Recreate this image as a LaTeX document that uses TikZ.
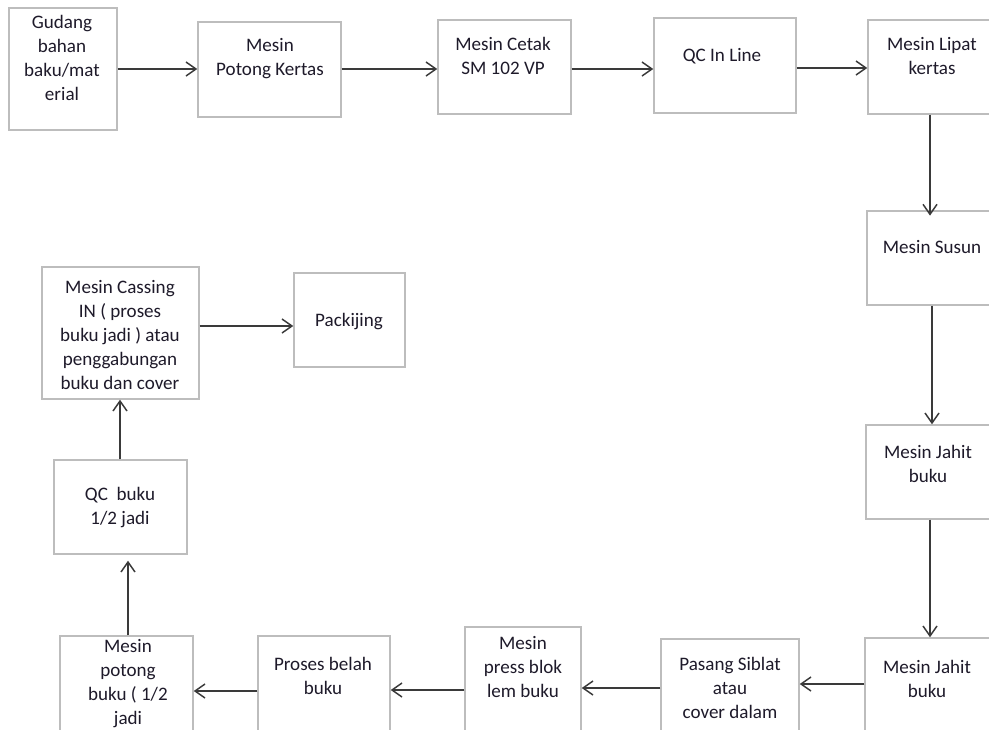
\documentclass[tikz,border=0pt]{standalone}
\usepackage{fontspec}
\setmainfont{Carlito}
\usetikzlibrary{arrows.meta,fit}
\definecolor{boxgray}{HTML}{BDBDBD}
\definecolor{linegray}{HTML}{3A3A3A}
\definecolor{txtcol}{HTML}{1E1A2A}
\tikzset{
  box/.style={draw=boxgray, line width=1.1pt, inner sep=0pt, fill=white},
  lbl/.style={align=center, text=txtcol, font=\fontsize{14.3pt}{18pt}\selectfont, inner sep=0pt},
  arr/.style={draw=linegray, line width=1.1pt, -{Straight Barb[length=7.5pt,width=10.5pt,line width=1.1pt]}}
}
\begin{document}
\begin{tikzpicture}[x=0.75pt,y=-0.75pt]
\clip (0,0) rectangle (989,729);
\fill[white] (0,0) rectangle (989,729);
% boxes
\node[box, fit={(9,8)(117,130)}] (gudang) {};
\node[box, fit={(198,22)(341,117)}] (potong) {};
\node[box, fit={(438,20)(571,114)}] (cetak) {};
\node[box, fit={(654,18)(796,113)}] (qcline) {};
\node[box, fit={(868,20)(1000,114)}] (lipat) {};
\node[box, fit={(867,211)(1000,305)}] (susun) {};
\node[box, fit={(866,425)(1000,519)}] (jahita) {};
\node[box, fit={(865,638)(1000,745)}] (jahitb) {};
\node[box, fit={(661,639)(799,745)}] (pasang) {};
\node[box, fit={(465,627)(581,745)}] (press) {};
\node[box, fit={(258,636)(390,745)}] (belah) {};
\node[box, fit={(60,636)(193,745)}] (potbuku) {};
\node[box, fit={(54,460)(187,554)}] (qcbuku) {};
\node[box, fit={(42,267)(199,399)}] (casing) {};
\node[box, fit={(294,273)(405,367)}] (pack) {};
% texts
\node[lbl] (tgudang) at (62,58) {Gudang\\bahan\\baku/mat\\erial};
\node[lbl] (tpotong) at (270,59) {Mesin\\Potong Kertas};
\node[lbl] (tcetak) at (503,56) {Mesin Cetak\\SM 102 VP};
\node[lbl] (tqcline) at (722,56) {QC In Line};
\node[lbl] (tlipat) at (932,56) {Mesin Lipat\\kertas};
\node[lbl] (tsusun) at (932,247) {Mesin Susun};
\node[lbl] (tjahita) at (928,464) {Mesin Jahit\\buku};
\node[lbl] (tjahitb) at (927,679) {Mesin Jahit\\buku};
\node[lbl] (tpasang) at (730,688) {Pasang Siblat\\atau\\cover dalam};
\node[lbl] (tpress) at (523,667) {Mesin\\press blok\\lem buku};
\node[lbl] (tbelah) at (323,676) {Proses belah\\buku};
\node[lbl] (tpotbuku) at (128,684) {Mesin\\potong\\buku ( 1/2\\jadi};
\node[lbl] (tqcbuku) at (120,508) {QC\ \ buku\\1/2 jadi};
\node[lbl] (tcasing) at (120,335) {Mesin Cassing\\IN ( proses\\buku jadi ) atau\\penggabungan\\buku dan cover};
\node[lbl] (tpack) at (349,322) {Packijing};
% connectors
\draw[arr] (gudang.east |- 0,69) -- (potong.west |- 0,69);
\draw[arr] (potong.east |- 0,69) -- (cetak.west |- 0,69);
\draw[arr] (cetak.east |- 0,69) -- (qcline.west |- 0,69);
\draw[arr] (qcline.east |- 0,68) -- (lipat.west |- 0,68);
\draw[arr] (lipat.south -| 930,0) -- ([yshift=-4pt]susun.north -| 930,0);
\draw[arr] (susun.south -| 932,0) -- (jahita.north -| 932,0);
\draw[arr] (jahita.south -| 930,0) -- (jahitb.north -| 930,0);
\draw[arr] (jahitb.west |- 0,684) -- (pasang.east |- 0,684);
\draw[arr] (pasang.west |- 0,688) -- (press.east |- 0,688);
\draw[arr] (press.west |- 0,690) -- (belah.east |- 0,690);
\draw[arr] (belah.west |- 0,691) -- (potbuku.east |- 0,691);
\draw[arr] (potbuku.north -| 128,0) -- ([yshift=-4.5pt]qcbuku.south -| 128,0);
\draw[arr] (qcbuku.north -| 120,0) -- (casing.south -| 120,0);
\draw[arr] (casing.east |- 0,326) -- (pack.west |- 0,326);
\end{tikzpicture}
\end{document}
